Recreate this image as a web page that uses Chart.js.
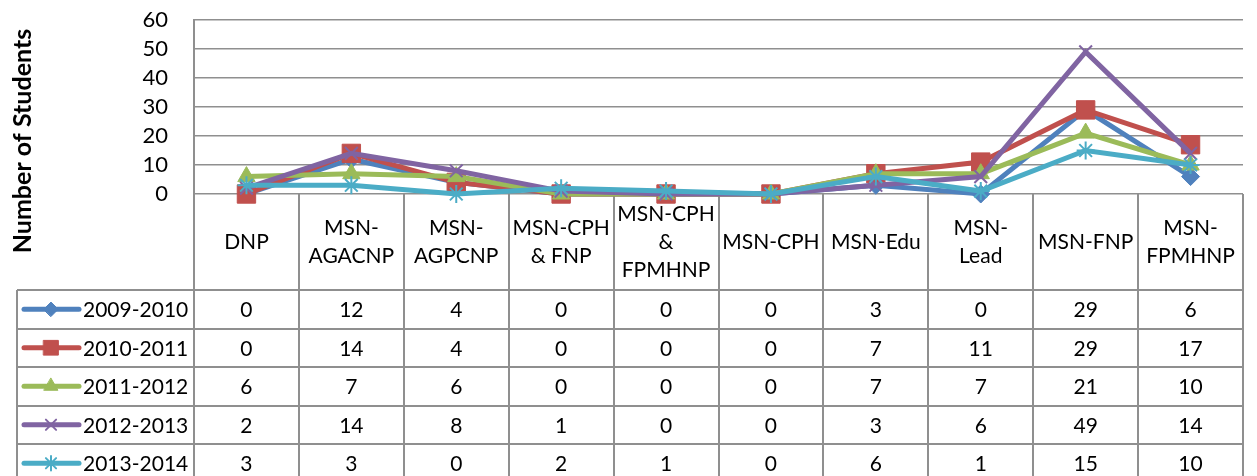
<!DOCTYPE html>
<html>
<head>
<meta charset="utf-8">
<script src="https://cdn.jsdelivr.net/npm/chart.js@4.4.1/dist/chart.umd.min.js"></script>
<style>
html,body{margin:0;padding:0;background:#fff;}
#wrap{width:1257px;height:476px;position:relative;}
</style>
</head>
<body>
<div id="wrap"><canvas id="myChart"></canvas></div>
<script>
var categorias = [["DNP"],["MSN-","AGACNP"],["MSN-","AGPCNP"],["MSN-CPH","& FNP"],["MSN-CPH","&","FPMHNP"],["MSN-CPH"],["MSN-Edu"],["MSN-","Lead"],["MSN-FNP"],["MSN-","FPMHNP"]];
var series = ["2009-2010","2010-2011","2011-2012","2012-2013","2013-2014"];
var datos2009 = [0,12,4,0,0,0,3,0,29,6];
var datos2010 = [0,14,4,0,0,0,7,11,29,17];
var datos2011 = [6,7,6,0,0,0,7,7,21,10];
var datos2012 = [2,14,8,1,0,0,3,6,49,14];
var datos2013 = [3,3,0,2,1,0,6,1,15,10];
var ticksY = [0,10,20,30,40,50,60];
var tituloY = "Number of Students";

var valores = [datos2009,datos2010,datos2011,datos2012,datos2013];
var colores = ["#4F81BD","#C0504D","#9BBB59","#8064A2","#4BACC6"];
var marcadores = ['rectRot','rect','triangle','crossRot','star'];
var radios = [9,13,10,9,9];

var fuente = "Lato, 'Open Sans', sans-serif";
var colorLinea = "#8f8f8f";
var altoCabecera = 96;
var altoFila = 38.5;
var tablaIzq = 17;

function dibujarMarcador(ctx, estilo, r, x, y, color){
	if(Chart.helpers && Chart.helpers.drawPoint){
		ctx.fillStyle = color;
		ctx.strokeStyle = color;
		ctx.lineWidth = (estilo=='crossRot'||estilo=='star') ? 2 : 1;
		Chart.helpers.drawPoint(ctx, {pointStyle: estilo, radius: r, rotation: 0, borderWidth: ctx.lineWidth}, x, y);
	}
}

var tablaPlugin = {
	id: 'tabla',
	beforeDatasetsDraw: function(chart){
		var ctx = chart.ctx, ca = chart.chartArea;
		var n = categorias.length;
		var w = (ca.right-ca.left)/n;
		var arriba = ca.bottom;
		var finCab = arriba+altoCabecera;
		var abajo = chart.height+10;
		ctx.save();
		ctx.strokeStyle = colorLinea;
		ctx.lineWidth = 2;
		// lineas verticales
		for(var i=0;i<=n;i++){
			var x = Math.round(ca.left+i*w);
			ctx.beginPath();
			ctx.moveTo(x, arriba);
			ctx.lineTo(x, abajo);
			ctx.stroke();
		}
		ctx.beginPath();
		ctx.moveTo(tablaIzq, finCab);
		ctx.lineTo(tablaIzq, abajo);
		ctx.stroke();
		// lineas horizontales
		for(var k=0;k<=series.length;k++){
			var y = Math.round(finCab+k*altoFila);
			ctx.beginPath();
			ctx.moveTo(tablaIzq, y);
			ctx.lineTo(ca.right, y);
			ctx.stroke();
		}
		ctx.fillStyle = "#000";
		ctx.font = "21px "+fuente;
		ctx.textAlign = "center";
		ctx.textBaseline = "middle";
		// cabecera
		for(var i=0;i<n;i++){
			var cx = ca.left+(i+0.5)*w;
			var lineas = categorias[i];
			var y0 = arriba+altoCabecera/2-(lineas.length-1)*14;
			for(var j=0;j<lineas.length;j++){
				ctx.fillText(lineas[j], cx, y0+j*28);
			}
		}
		// filas
		for(var s=0;s<series.length;s++){
			var cy = finCab+(s+0.5)*altoFila;
			for(var i=0;i<n;i++){
				ctx.fillText(String(valores[s][i]), ca.left+(i+0.5)*w, cy+1);
			}
			ctx.strokeStyle = colores[s];
			ctx.lineWidth = 5;
			ctx.lineCap = "round";
			ctx.beginPath();
			ctx.moveTo(24, cy);
			ctx.lineTo(79, cy);
			ctx.stroke();
			dibujarMarcador(ctx, marcadores[s], radios[s]*0.8, 51, cy, colores[s]);
			ctx.fillStyle = "#000";
			ctx.textAlign = "left";
			ctx.fillText(series[s], 83, cy+1);
			ctx.textAlign = "center";
		}
		ctx.restore();
	},
	afterDraw: function(chart){
		var ctx = chart.ctx;
		ctx.save();
		ctx.translate(23, 141);
		ctx.rotate(-Math.PI/2);
		ctx.font = "bold 25px "+fuente;
		ctx.fillStyle = "#000";
		ctx.textAlign = "center";
		ctx.textBaseline = "middle";
		ctx.fillText(tituloY, 0, 0);
		ctx.restore();
	}
};

var conjuntos = [];
for(var s=0;s<series.length;s++){
	conjuntos.push({
		label: series[s],
		data: valores[s],
		borderColor: colores[s],
		backgroundColor: colores[s],
		borderWidth: 5,
		pointStyle: marcadores[s],
		pointRadius: radios[s],
		pointBackgroundColor: colores[s],
		pointBorderColor: colores[s],
		pointBorderWidth: (s>=3) ? 2 : 1,
		tension: 0,
		fill: false,
		clip: false,
		order: -s
	});
}

new Chart(document.getElementById("myChart"), {
	type: 'line',
	data: {
		labels: categorias,
		datasets: conjuntos
	},
	options: {
		responsive: true,
		maintainAspectRatio: false,
		animation: false,
		events: [],
		layout: {padding: {left: 0, top: 20, right: 1, bottom: 282}},
		plugins: {
			legend: {display: false},
			tooltip: {enabled: false},
			title: {display: false}
		},
		scales: {
			x: {
				display: false,
				offset: true
			},
			y: {
				min: ticksY[0],
				max: ticksY[ticksY.length-1],
				afterFit: function(scale){
					scale.width = 194;
					scale.paddingTop = 0;
					scale.paddingBottom = 0;
				},
				ticks: {
					stepSize: ticksY[1]-ticksY[0],
					autoSkip: false,
					color: "#000",
					padding: 26,
					font: {family: fuente, size: 22}
				},
				grid: {
					color: colorLinea,
					lineWidth: 1.5,
					drawTicks: false
				},
				border: {display: true, color: colorLinea, width: 2}
			}
		}
	},
	plugins: [tablaPlugin]
});
</script>
</body>
</html>
